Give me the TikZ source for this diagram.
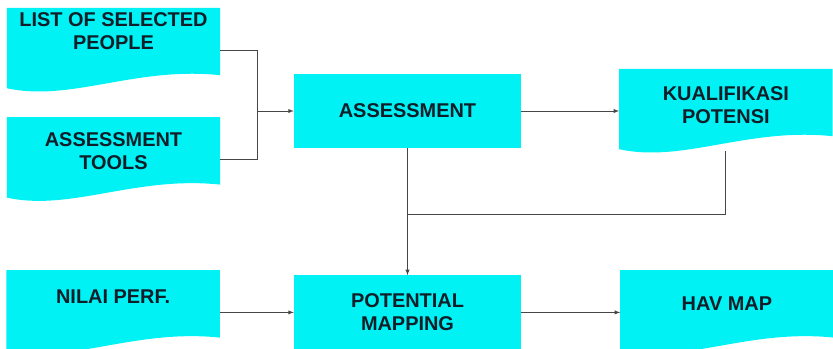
\documentclass[tikz,border=0pt]{standalone}
\usepackage{xcolor}
\usepackage{fontspec}
\setmainfont{Liberation Sans}
\usepackage{tikz}
\usetikzlibrary{shapes,positioning,arrows,arrows.meta,backgrounds}

\definecolor{boxcyan}{RGB}{0,242,245}
\definecolor{boxtext}{RGB}{15,30,40}
\definecolor{linegray}{RGB}{70,70,70}

\begin{document}
\begin{tikzpicture}[
    % Define node styles
    x = 1bp, y = 1bp,
    node distance = 25bp,
    font = \fontsize{20}{23}\selectfont\bfseries,
    text = boxtext,
    proc/.style={rectangle, fill=boxcyan, align=center, minimum width=227bp, minimum height=74bp, inner sep=2bp},
    docu/.style={rectangle, align=center, minimum width=213bp, minimum height=84bp, inner sep=2bp, text depth=#1},
    docu/.default=14bp,
    link/.style={draw=linegray, line width=0.9pt},
]
\useasboundingbox (0,0) rectangle (833,-348);

% Main nodes
\node[docu=38bp] (list) at (113.5,-50) {LIST OF SELECTED\\PEOPLE};
\node[docu=16bp, below= of list] (tools) {ASSESSMENT\\TOOLS};

\node[proc] (assess) at (407.5,-111) {ASSESSMENT};
\node[docu=12bp, right= 98bp of assess] (kual) {KUALIFIKASI\\POTENSI};

\node[proc, below= 127bp of assess] (pot) {POTENTIAL\\MAPPING};
\node[docu=32bp, left= 74bp of pot] (nilai) {NILAI PERF.};
\node[docu=18bp, right= 99bp of pot] (hav) {HAV MAP};

% Wavy document shapes behind the text
\begin{scope}[on background layer]
    \foreach \n in {list,tools,kual,nilai,hav}
        \fill[boxcyan] (\n.north west) -- (\n.north east) -- ([yshift=17bp]\n.south east)
            .. controls ([xshift=-85bp,yshift=26bp]\n.south east) and ([xshift=64bp,yshift=-10bp]\n.south west)
            .. ([yshift=4bp]\n.south west) -- cycle;
\end{scope}

% Join points
\coordinate (join) at (257,-111);
\coordinate (merge) at ([yshift=-66bp]assess.south);

% Arrows for main flow
\draw[link] (list.east) -| (join);
\draw[link] (tools.east) -| (join);
\draw[link, -latex] (join) -- (assess);
\draw[link, -latex] (assess) -- (kual);
\draw[link] ([yshift=2bp]kual.south) |- (merge);
\draw[link, -latex] (assess) -- (pot);
\draw[link, -latex] (nilai) -- (pot);
\draw[link, -latex] (pot) -- (hav);

\end{tikzpicture}
\end{document}
